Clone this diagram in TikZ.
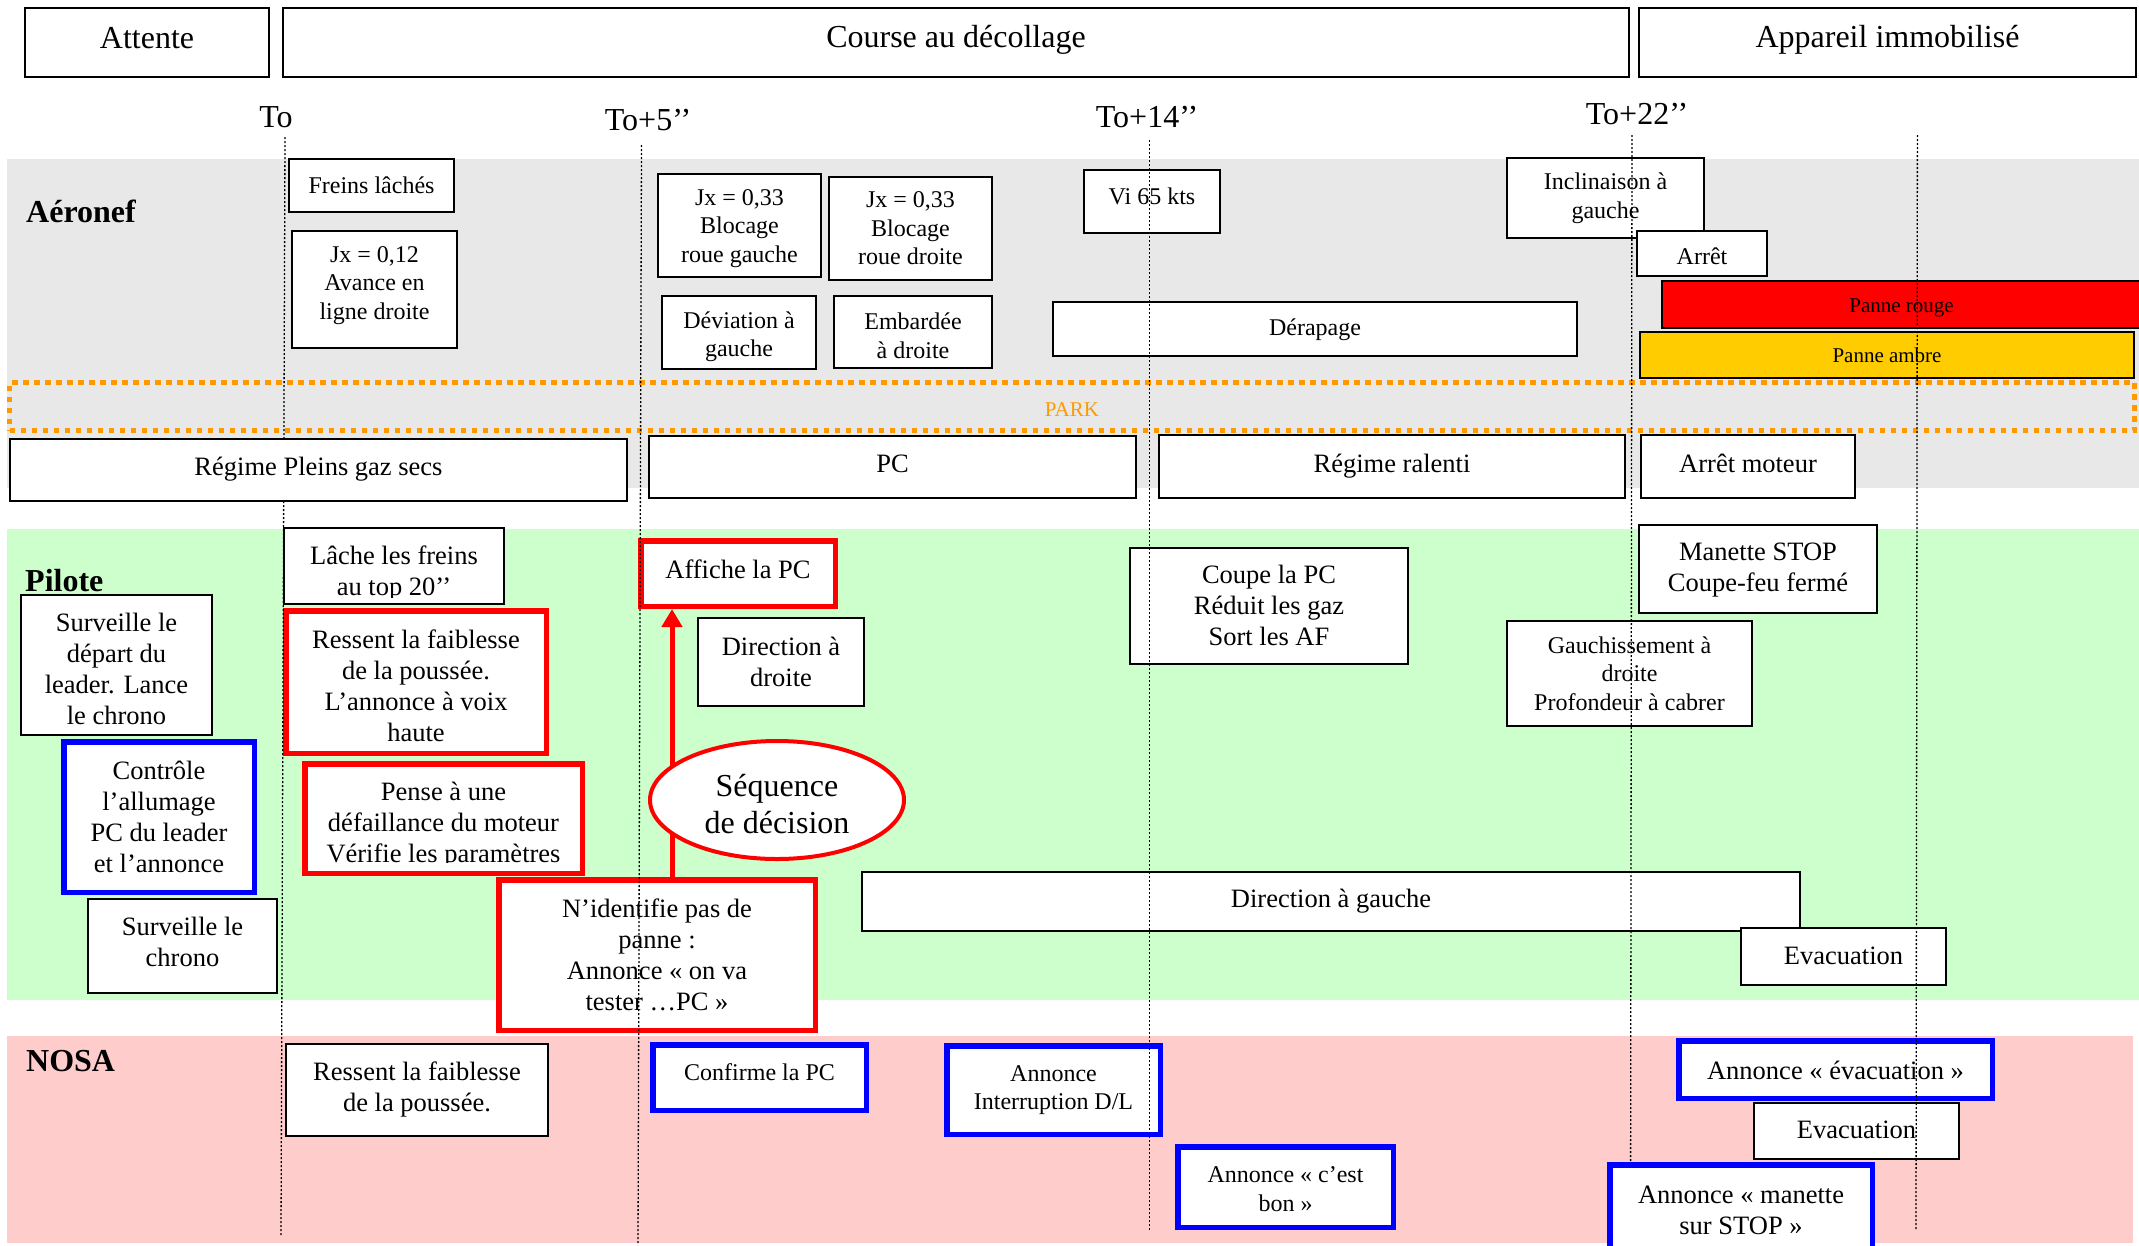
\documentclass[tikz,border=0pt]{standalone}
\usepackage{fontspec}
\setmainfont{Liberation Serif}
\usetikzlibrary{arrows.meta,shapes.geometric}
\definecolor{bandgray}{RGB}{232,232,232}
\definecolor{bandgreen}{RGB}{204,255,204}
\definecolor{bandpink}{RGB}{255,204,204}
\definecolor{parkorange}{RGB}{255,153,0}
\definecolor{amber}{RGB}{255,204,0}
% box from outer corners (x1,y1)-(x2,y2); text shifted down by #7 px
\newcommand\bxonly[6]{\node[#1,minimum width={(#5)-(#3)-\pgflinewidth},minimum height={(#6)-(#4)-\pgflinewidth}] (#2) at ({((#3)+(#5))/2},{((#4)+(#6))/2}) {};}
\newcommand\rbx[8]{\bxonly{#1}{#2}{#3}{#4}{#5}{#6}%
  \node[#1,draw=none,fill=none,minimum width=0pt,minimum height=0pt] (#2-t) at ([yshift={-1pt*(#7)}]#2.center) {#8};}
\tikzset{
  fH/.style={font=\fontsize{32}{38}\selectfont},
  fA/.style={font=\fontsize{26.5}{31}\selectfont},
  fB/.style={font=\fontsize{24}{28.5}\selectfont},
  fC/.style={font=\fontsize{21}{25}\selectfont},
  fL/.style={font=\fontsize{32}{38}\selectfont\bfseries},
  wbox/.style={draw=black,line width=2pt,fill=white,align=center,inner sep=0pt},
  rbox/.style={draw=red,line width=5.5pt,fill=white,align=center,inner sep=0pt},
  bbox/.style={draw=blue,line width=5.5pt,fill=white,align=center,inner sep=0pt},
  tline/.style={draw=black,line width=1.3pt,dash pattern=on 2pt off 2pt},
  lbl/.style={inner sep=0pt},
  txt/.style={inner sep=0pt,align=center},
  redarrow/.style={draw=red,line width=5pt,-{Triangle[width=20pt,length=18pt]}},
}
\begin{document}
\begin{tikzpicture}[x=1pt,y=-1pt]
\useasboundingbox (0,0) rectangle (2139,1245);
\fill[white] (0,0) rectangle (2139,1245);
% bands
\fill[bandgray] (7,159) rectangle (2139,488);
\fill[bandgreen] (7,529) rectangle (2139,1000);
\fill[bandpink] (7,1036) rectangle (2133,1243);
% headers
\rbx{wbox,fH}{attente}{24}{7}{270}{78}{-4}{Attente}
\rbx{wbox,fH}{course}{282}{7}{1630}{78}{-3}{Course au décollage}
\rbx{wbox,fH}{appareil}{1638}{7}{2137}{78}{-3}{Appareil immobilisé}
% time labels
\node[lbl,fH] (t0) at (276,117) {To};
\node[lbl,fH] (t5) at (648,120) {To+5’’};
\node[lbl,fH] (t14) at (1147,117) {To+14’’};
\node[lbl,fH] (t22) at (1637,114) {To+22’’};
% section labels
\node[lbl,fL,anchor=west] (aero) at (26,211) {Aéronef};
\node[lbl,fL,anchor=west] (pilote) at (25,581) {Pilote};
\node[lbl,fL,anchor=west] (nosa) at (26,1061) {NOSA};
% PARK
\node[draw=parkorange,line width=5pt,dash pattern=on 5.5pt off 5.5pt,minimum width=2125,minimum height=48,inner sep=0pt] (park) at (1072,406.5) {};
\node[txt,fC,text=parkorange] (park-t) at ([yshift=-3pt]park.center) {PARK};
% Aeronef boxes
\rbx{wbox,fB}{freins}{288}{158}{455}{213}{0}{Freins lâchés}
\rbx{wbox,fB}{jx012}{291}{230}{458}{349}{-4}{Jx = 0,12\\Avance en\\ligne droite}
\rbx{wbox,fB}{jxg}{657}{173}{822}{278}{3}{Jx = 0,33\\Blocage\\roue gauche}
\rbx{wbox,fB}{jxd}{828}{176}{993}{281}{0}{Jx = 0,33\\Blocage\\roue droite}
\rbx{wbox,fB}{devg}{661}{295}{817}{370}{4}{Déviation à\\gauche}
\rbx{wbox,fB}{embd}{833}{295}{993}{369}{4}{Embardée\\à droite}
\rbx{wbox,fB}{vi}{1083}{169}{1221}{234}{-5}{Vi 65 kts}
\rbx{wbox,fB}{incl}{1506}{157}{1705}{239}{0}{Inclinaison à\\gauche}
\rbx{wbox,fB}{arret}{1636}{230}{1768}{277}{3}{Arrêt}
\rbx{wbox,fC,fill=red}{rouge}{1661}{280}{2142}{329}{3}{Panne rouge}
\rbx{wbox,fC,fill=amber}{ambre}{1639}{331}{2135}{379}{0}{Panne ambre}
\rbx{wbox,fB}{derap}{1052}{301}{1578}{357}{1}{Dérapage}
\rbx{wbox,fA}{pc}{648}{435}{1137}{499}{-3}{PC}
\rbx{wbox,fA}{ralenti}{1158}{434}{1626}{499}{0}{Régime ralenti}
\rbx{wbox,fA}{arretm}{1640}{434}{1856}{499}{-3}{Arrêt moteur}
% Pilote boxes
\bxonly{wbox,fA}{lache}{283}{527}{505}{605}
\begin{scope}
\clip (283,527) rectangle (505,597);
\node[txt,fA] (lache-t) at ([yshift=-7pt]lache.center) {Lâche les freins\\au top 20’’};
\end{scope}
\rbx{rbox,fA}{ressentP}{283}{608}{549}{756}{4}{Ressent la faiblesse\\de la poussée.\\L’annonce à voix\\haute}
\bxonly{rbox,fA}{pense}{302}{761}{585}{876}
\begin{scope}
\clip (302,761) rectangle (585,862);
\node[txt,fA] (pense-t) at ([yshift=-7pt]pense.center) {Pense à une\\défaillance du moteur\\Vérifie les paramètres};
\end{scope}
\rbx{rbox,fA}{affiche}{638}{538}{838}{609}{-4}{Affiche la PC}
\rbx{wbox,fA}{dirdroite}{697}{617}{865}{707}{0}{Direction à\\droite}
\rbx{rbox,fA}{nident}{496}{877}{818}{1033}{0}{N’identifie pas de\\panne :\\Annonce « on va\\tester …PC »}
\coordinate (arrx) at (672,0);
\draw[redarrow] (nident.north -| arrx) -- (affiche.south -| arrx);
\node[ellipse,draw=red,line width=4pt,fill=white,minimum width=254,minimum height=118,inner sep=0pt] (seq) at (777,800) {};
\node[txt,font=\fontsize{32}{37}\selectfont] (seq-t) at ([yshift=-4pt]seq.center) {Séquence\\de décision};
\rbx{wbox,fA}{surv}{20}{594}{213}{736}{4}{Surveille le\\départ du\\leader. Lance\\le chrono}
\rbx{bbox,fA}{controle}{61}{739}{257}{895}{0}{Contrôle\\l’allumage\\PC du leader\\et l’annonce}
\rbx{wbox,fA}{survchrono}{87}{898}{278}{994}{-4}{Surveille le\\chrono}
\rbx{wbox,fA}{coupe}{1129}{547}{1409}{665}{-1}{Coupe la PC\\Réduit les gaz\\Sort les AF}
\rbx{wbox,fA}{manette}{1638}{524}{1878}{614}{1}{Manette STOP\\Coupe-feu fermé}
\rbx{wbox,fB}{gauchis}{1506}{620}{1753}{727}{0}{Gauchissement à\\droite\\Profondeur à cabrer}
\rbx{wbox,fA}{dirgauche}{861}{871}{1801}{932}{0}{Direction à gauche}
\rbx{wbox,fA}{evacP}{1740}{927}{1947}{986}{-1}{Evacuation}
% NOSA boxes
\rbx{wbox,fA}{ressentN}{285}{1043}{549}{1137}{-1}{Ressent la faiblesse\\de la poussée.}
\rbx{bbox,fB}{confirme}{650}{1042}{869}{1113}{-5}{Confirme la PC}
\rbx{bbox,fB}{interr}{944}{1043}{1163}{1137}{0}{Annonce\\Interruption D/L}
\rbx{bbox,fB}{cestbon}{1175}{1144}{1396}{1230}{2}{Annonce « c’est\\bon »}
\rbx{bbox,fA}{annevac}{1676}{1038}{1995}{1101}{1}{Annonce « évacuation »}
\rbx{wbox,fA}{evacN}{1753}{1102}{1960}{1160}{-1}{Evacuation}
% time lines
\coordinate (l1t) at (285,137); \coordinate (l1b) at (281,1235);
\coordinate (l2t) at (641.5,145); \coordinate (l2b) at (638,1245);
\coordinate (l3t) at (1149.6,140); \coordinate (l3b) at (1149.6,1230);
\coordinate (l4t) at (1632,135); \coordinate (l4b) at (1630.5,1235);
\coordinate (l5t) at (1917.4,135); \coordinate (l5b) at (1916,1230);
\draw[tline] (l1t) -- (l1b);
\draw[tline] (l2t) -- (l2b);
\draw[tline] (l3t) -- (l3b);
\draw[tline] (l4t) -- (l4b);
\draw[tline] (l5t) -- (l5b);
% boxes over the lines
\rbx{wbox,fA}{regime}{9}{438}{628}{502}{-1}{Régime Pleins gaz secs}
\rbx{bbox,fA}{manetteN}{1607}{1162}{1875}{1262}{-2}{Annonce « manette\\sur STOP »}
\end{tikzpicture}
\end{document}
